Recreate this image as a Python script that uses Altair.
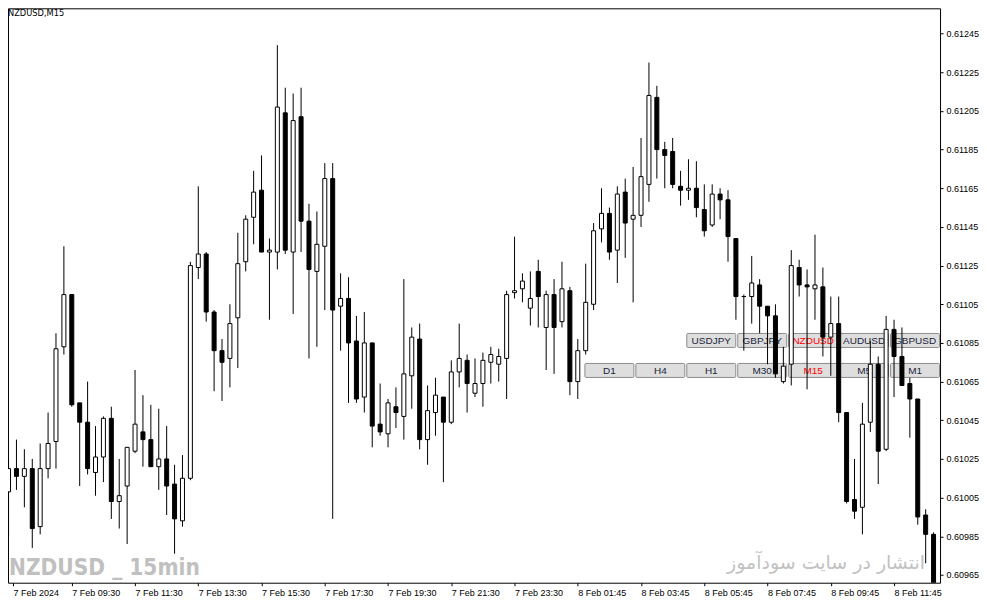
import altair as alt
import pandas as pd

# ---------------- data (NZDUSD M15 candles) ----------------
opens = [0.61008, 0.61020, 0.61016, 0.61020, 0.60990, 0.61020, 0.61034, 0.61083, 0.61110, 0.61054,
         0.61044, 0.61018, 0.61026, 0.61046, 0.61003, 0.61011, 0.61029, 0.61039, 0.61035, 0.61021,
         0.61025, 0.61012, 0.60993, 0.61015, 0.61124, 0.61131, 0.61101, 0.61081, 0.61077, 0.61098,
         0.61127, 0.61150, 0.61164, 0.61132, 0.61132, 0.61204, 0.61132, 0.61202, 0.61148, 0.61122,
         0.61135, 0.61170, 0.61104, 0.61108, 0.61086, 0.61057, 0.61085, 0.61043, 0.61038, 0.61052,
         0.61047, 0.61068, 0.61087, 0.61035, 0.61049, 0.61057, 0.61044, 0.61070, 0.61076, 0.61059,
         0.61064, 0.61075, 0.61074, 0.61077, 0.61111, 0.61113, 0.61103, 0.61122, 0.61093, 0.61110,
         0.61096, 0.61112, 0.61065, 0.61081, 0.61105, 0.61144, 0.61152, 0.61133, 0.61163, 0.61149,
         0.61151, 0.61167, 0.61212, 0.61185, 0.61184, 0.61166, 0.61164, 0.61165, 0.61154, 0.61146,
         0.61162, 0.61159, 0.61139, 0.61109, 0.61109, 0.61115, 0.61104, 0.61099, 0.61065, 0.61074,
         0.61124, 0.61115, 0.61113, 0.61114, 0.61088, 0.61095, 0.61049, 0.61004, 0.61000, 0.61044,
         0.61074, 0.61030, 0.61092, 0.61078, 0.61064, 0.61056, 0.60996, 0.60986]
highs = [0.61025, 0.61035, 0.61030, 0.61025, 0.61033, 0.61049, 0.61090, 0.61135, 0.61110, 0.61054,
         0.61065, 0.61042, 0.61047, 0.61052, 0.61025, 0.61031, 0.61071, 0.61058, 0.61053, 0.61051,
         0.61042, 0.61022, 0.61027, 0.61127, 0.61166, 0.61132, 0.61102, 0.61087, 0.61105, 0.61142,
         0.61151, 0.61174, 0.61182, 0.61139, 0.61239, 0.61217, 0.61214, 0.61217, 0.61157, 0.61153,
         0.61178, 0.61178, 0.61121, 0.61119, 0.61099, 0.61101, 0.61085, 0.61064, 0.61056, 0.61062,
         0.61118, 0.61093, 0.61095, 0.61063, 0.61067, 0.61057, 0.61076, 0.61095, 0.61079, 0.61077,
         0.61080, 0.61083, 0.61082, 0.61112, 0.61140, 0.61121, 0.61122, 0.61128, 0.61112, 0.61118,
         0.61127, 0.61114, 0.61087, 0.61126, 0.61147, 0.61165, 0.61155, 0.61166, 0.61170, 0.61176,
         0.61191, 0.61230, 0.61218, 0.61189, 0.61191, 0.61174, 0.61180, 0.61179, 0.61167, 0.61167,
         0.61165, 0.61164, 0.61139, 0.61110, 0.61130, 0.61118, 0.61104, 0.61105, 0.61083, 0.61133,
         0.61128, 0.61123, 0.61141, 0.61124, 0.61109, 0.61109, 0.61049, 0.61025, 0.61054, 0.61086,
         0.61078, 0.61099, 0.61097, 0.61093, 0.61067, 0.61056, 0.60999, 0.60987]
lows = [0.60985, 0.61009, 0.61000, 0.60979, 0.60986, 0.61015, 0.61020, 0.61079, 0.61052, 0.61011,
        0.61017, 0.61006, 0.61013, 0.60994, 0.60989, 0.60981, 0.61028, 0.61021, 0.61021, 0.61009,
        0.60996, 0.60976, 0.60990, 0.61014, 0.61118, 0.61096, 0.61060, 0.61055, 0.61062, 0.61072,
        0.61122, 0.61136, 0.61132, 0.61097, 0.61123, 0.61131, 0.61100, 0.61132, 0.61077, 0.61083,
        0.61102, 0.60994, 0.61081, 0.61054, 0.61054, 0.61049, 0.61031, 0.61037, 0.61031, 0.61041,
        0.61035, 0.61051, 0.61030, 0.61022, 0.61037, 0.61013, 0.61043, 0.61062, 0.61049, 0.61057,
        0.61052, 0.61064, 0.61065, 0.61056, 0.61108, 0.61106, 0.61094, 0.61093, 0.61071, 0.61069,
        0.61093, 0.61058, 0.61056, 0.61079, 0.61102, 0.61137, 0.61128, 0.61116, 0.61129, 0.61106,
        0.61145, 0.61158, 0.61170, 0.61165, 0.61165, 0.61156, 0.61159, 0.61150, 0.61140, 0.61145,
        0.61149, 0.61127, 0.61097, 0.61081, 0.61095, 0.61090, 0.61074, 0.61067, 0.61064, 0.61063,
        0.61109, 0.61061, 0.61097, 0.61078, 0.61068, 0.61044, 0.61002, 0.60994, 0.60986, 0.61039,
        0.61012, 0.61029, 0.61057, 0.61063, 0.61036, 0.60991, 0.60971, 0.60950]
closes = [0.61020, 0.61016, 0.61020, 0.60989, 0.61020, 0.61033, 0.61082, 0.61110, 0.61053, 0.61044,
          0.61020, 0.61026, 0.61046, 0.61003, 0.61006, 0.61031, 0.61043, 0.61035, 0.61021, 0.61025,
          0.61011, 0.60994, 0.61015, 0.61125, 0.61131, 0.61101, 0.61081, 0.61075, 0.61095, 0.61126,
          0.61149, 0.61163, 0.61132, 0.61133, 0.61207, 0.61133, 0.61200, 0.61148, 0.61123, 0.61136,
          0.61170, 0.61102, 0.61108, 0.61085, 0.61056, 0.61085, 0.61042, 0.61039, 0.61054, 0.61049,
          0.61069, 0.61088, 0.61035, 0.61050, 0.61058, 0.61044, 0.61070, 0.61077, 0.61064, 0.61064,
          0.61076, 0.61079, 0.61078, 0.61110, 0.61112, 0.61117, 0.61108, 0.61109, 0.61110, 0.61093,
          0.61113, 0.61065, 0.61081, 0.61106, 0.61143, 0.61152, 0.61132, 0.61162, 0.61147, 0.61151,
          0.61171, 0.61213, 0.61185, 0.61182, 0.61167, 0.61164, 0.61165, 0.61155, 0.61143, 0.61162,
          0.61159, 0.61140, 0.61109, 0.61109, 0.61116, 0.61104, 0.61099, 0.61069, 0.61073, 0.61125,
          0.61115, 0.61114, 0.61115, 0.61088, 0.61095, 0.61049, 0.61003, 0.60998, 0.61043, 0.61074,
          0.61029, 0.61092, 0.61078, 0.61063, 0.61056, 0.60995, 0.60986, 0.60955]

time_labels = ["7 Feb 2024", "7 Feb 09:30", "7 Feb 11:30", "7 Feb 13:30", "7 Feb 15:30",
               "7 Feb 17:30", "7 Feb 19:30", "7 Feb 21:30", "7 Feb 23:30", "8 Feb 01:45",
               "8 Feb 03:45", "8 Feb 05:45", "8 Feb 07:45", "8 Feb 09:45", "8 Feb 11:45"]
price_ticks = [0.60965, 0.60985, 0.61005, 0.61025, 0.61045, 0.61065, 0.61085, 0.61105,
               0.61125, 0.61145, 0.61165, 0.61185, 0.61205, 0.61225, 0.61245]
symbol_buttons = ["USDJPY", "GBPJPY", "NZDUSD", "AUDUSD", "GBPUSD"]
period_buttons = ["D1", "H4", "H1", "M30", "M15", "M5", "M1"]
active = {"NZDUSD", "M15"}

# ---------------- layout ----------------
W, H = 933, 575
X_DOM = [1.5625, 118.1875]
Y_DOM = [0.6096099, 0.6125807]
FONT = "Liberation Sans"

n = len(opens)
df = pd.DataFrame({"i": list(range(1, n + 1)), "o": opens, "h": highs, "l": lows, "c": closes})
df["fillc"] = ["#ffffff" if c >= o else "#000000" for o, c in zip(opens, closes)]

xs = alt.Scale(domain=X_DOM, nice=False, zero=False)
ys = alt.Scale(domain=Y_DOM, nice=False, zero=False)

tick_idx = [X_DOM[0]] + [1 + 8 * k for k in range(1, len(time_labels))]
label_js = "[" + ",".join("'%s'" % t for t in time_labels) + "]"
x_axis = alt.Axis(values=tick_idx, labelExpr=label_js + "[round((datum.value - 1) / 8)]",
                  orient="bottom", title=None, grid=False, domain=False, tickSize=3,
                  tickColor="black", labelAlign="left", labelBaseline="top", labelPadding=3,
                  labelFont=FONT, labelFontSize=9, labelColor="black", labelOverlap=False,
                  labelFlush=False)
y_axis = alt.Axis(values=price_ticks, format=".5f", orient="right", title=None, grid=False,
                  domain=False, tickSize=3, tickColor="black", labelPadding=3, labelFont=FONT,
                  labelFontSize=9, labelColor="black", labelOverlap=False, labelFlush=False)

one = alt.Data(values=[{}])
layers = []

# buttons (drawn under the candles)
BW, STEP = 49, 51
RIGHT = 932.5
rows = [(symbol_buttons, 325.5, 339.5), (period_buttons, 355.5, 369.5)]
for names, top, bot in rows:
    k = len(names)
    for j, name in enumerate(names):
        x1 = RIGHT - (k - 1 - j) * STEP
        x0 = x1 - BW
        layers.append(alt.Chart(one).mark_rect(fill="#dedede", stroke="#8c8c8c", strokeWidth=1,
                                               cornerRadius=1)
                      .encode(x=alt.value(x0), x2=alt.value(x1), y=alt.value(top), y2=alt.value(bot)))
        layers.append(alt.Chart(one).mark_text(text=name, font=FONT, fontSize=10, align="center",
                                               baseline="middle",
                                               color="#ff0000" if name in active else "#1b1f3b")
                      .encode(x=alt.value((x0 + x1) / 2), y=alt.value((top + bot) / 2 + 0.5)))

# watermarks and symbol caption
layers.append(alt.Chart(one).mark_text(text="NZDUSD _ 15min",
                                       font="DejaVu Sans Condensed, Liberation Sans",
                                       fontSize=22.5, fontWeight="bold", align="left",
                                       baseline="alphabetic", color="#c0c0c0")
              .encode(x=alt.value(1), y=alt.value(567)))
layers.append(alt.Chart(one).mark_text(text="انتشار در سایت سودآموز", font="DejaVu Sans",
                                       fontSize=19, align="right", baseline="alphabetic",
                                       color="#c2c2c2")
              .encode(x=alt.value(918), y=alt.value(561)))
layers.append(alt.Chart(one).mark_text(text="NZDUSD,M15", font="DejaVu Sans", fontSize=8.3,
                                       align="left", baseline="top", color="#000000")
              .encode(x=alt.value(0), y=alt.value(1)))

# candles
base = alt.Chart(df)
wicks = base.mark_rule(color="black", strokeWidth=1, clip=True).encode(
    x=alt.X("i:Q", scale=xs, axis=x_axis),
    y=alt.Y("l:Q", scale=ys, axis=y_axis),
    y2="h:Q",
)
bodies = base.mark_bar(size=4, stroke="black", strokeWidth=1, clip=True).encode(
    x=alt.X("i:Q", scale=xs, axis=x_axis),
    y=alt.Y("o:Q", scale=ys, axis=y_axis),
    y2="c:Q",
    fill=alt.Fill("fillc:N", scale=None),
)
layers += [wicks, bodies]

chart = (alt.layer(*layers)
         .properties(width=W, height=H, padding=0, background="white")
         .configure_view(stroke="black", strokeWidth=1))

chart.save("out.html", embed_options={"renderer": "svg", "actions": False})
